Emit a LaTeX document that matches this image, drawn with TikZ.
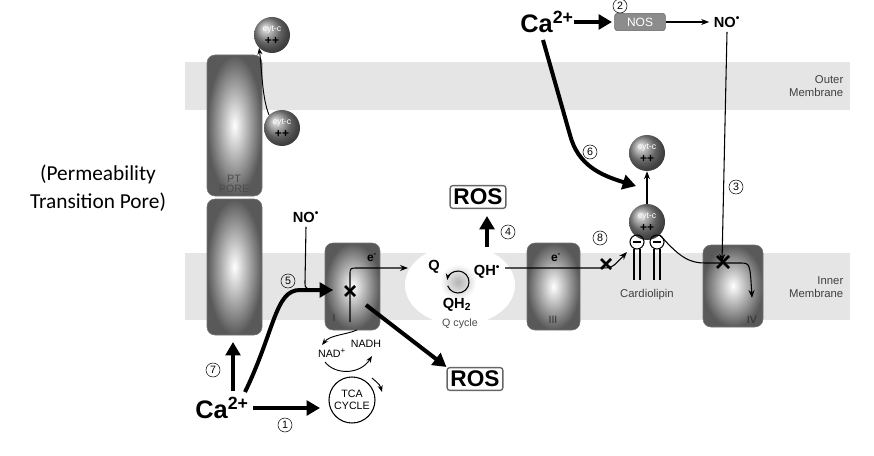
\documentclass[tikz,border=0pt]{standalone}
\usepackage{fontspec}
\setmainfont{Liberation Sans}
\newfontfamily\carlitofont{Carlito}
\usetikzlibrary{arrows.meta}
\begin{document}
\begin{tikzpicture}[x=0.75pt,y=-0.75pt,
 cx/.style={shade,inner color=white,outer color=black!65,rounded corners=6pt,draw=black!55},
 cyt/.style={circle,minimum size=36*0.75pt,inner sep=0pt,ball color=black!45},
 thk/.style={line width=3pt,-{Triangle[length=10pt,width=11pt]}},
 thn/.style={line width=0.8pt,-{Stealth[length=6pt]}},
 num/.style={circle,draw,inner sep=0pt,minimum size=14*0.75pt,font=\fontsize{8}{8}\selectfont},
 lab/.style={font=\fontsize{8.5}{10}\selectfont,text=black!75,align=right},
 ros/.style={draw=black!60,fill=white,rounded corners=2pt,line width=1pt,font=\bfseries\fontsize{17}{17}\selectfont,inner sep=2.5pt},
 ca/.style={font=\bfseries\fontsize{19}{19}\selectfont},
 xm/.style={line width=2pt},
 bl/.style={font=\bfseries\fontsize{11}{11}\selectfont}]
\useasboundingbox (0,0) rectangle (874,456);
\fill[black!10] (185,62) rectangle (850,110);
\fill[black!10] (185,253) rectangle (850,320);
\node[lab,anchor=east] (om) at (848,86) {Outer\\Membrane};
\node[lab,anchor=east] (im) at (848,287) {Inner\\Membrane};
% PT pore
\shade[cx] (207,55) rectangle (262,196);
\shade[cx] (207,199) rectangle (262,335);
\node[font=\fontsize{8}{8}\selectfont,text=black!70,align=center] (pt) at (234,184) {PT\\PORE};
\node[font=\carlitofont\fontsize{16}{21}\selectfont,align=center] (ptp) at (98,188) {(Permeability\\Transition Pore)};
% complexes
\shade[cx] (325,243) rectangle (380,330);
\shade[cx] (527,243) rectangle (580,330);
\shade[cx] (703,245) rectangle (763,327);
\node[font=\fontsize{8}{8}\selectfont,text=black!80] (c1) at (334,318) {I};
\node[font=\fontsize{8}{8}\selectfont,text=black!80] (c3) at (553,320) {III};
\node[font=\fontsize{8}{8}\selectfont,text=black!80] (c4) at (752,320) {IV};
% Q cycle
\fill[white] (460,285) ellipse (55 and 40);
\shade[inner color=black!30,outer color=white] (458,282) circle (18);
\draw[line width=0.8pt,-{Stealth[length=5pt]}] (458,282) ++(160:11) arc[start angle=160,end angle=-170,radius=11];
\node[bl] (q) at (434,267) {Q};
\node[bl] (qh) at (487,272) {QH\textsuperscript{•}};
\node[bl] (qh2) at (457,305) {QH\textsubscript{2}};
\node[font=\fontsize{8}{8}\selectfont,text=black!70] (qc) at (460,324) {Q cycle};
% cyt-c
\foreach \n/\px/\py in {cy1/272/35,cy2/282/128,cy3/647/153,cy4/647/222}{
 \node[cyt] (\n) at (\px,\py) {};
 \node[font=\fontsize{6.5}{6.5}\selectfont,text=white,inner sep=0pt] (\n t) at (\px,\py-5) {cyt-c};
 \node[font=\bfseries\fontsize{9}{9}\selectfont,inner sep=0pt] (\n p) at (\px,\py+6) {++};}
\draw[line width=0.7pt,-{Stealth[length=5pt]}] (cy2.north west) .. controls (262,98) and (262,70) .. (cy1.south west);
% cardiolipin
\foreach \xx in {637,657}{\draw[line width=0.8pt] (\xx,242) circle (7);
 \draw[line width=1.2pt] (\xx-4,242)--(\xx+4,242);
 \draw[line width=0.8pt] (\xx-3,249)--(\xx-3,280) (\xx+3,249)--(\xx+3,280);}
\node[font=\fontsize{8.5}{9}\selectfont,text=black!75] (card) at (647,295) {Cardiolipin};
% ROS
\node[ros] (ros1) at (478,197) {ROS};
\node[ros] (ros2) at (475,379) {ROS};
% Ca
\node[ca] (ca1) at (222,408) {Ca\textsuperscript{2+}};
\node[ca] (ca2) at (547,22) {Ca\textsuperscript{2+}};
\node[draw=black!60,fill=black!45,rounded corners=2pt,font=\fontsize{9}{9}\selectfont,text=white,minimum width=38pt,minimum height=12pt] (nos) at (640,22) {NOS};
\node[bl] (no1) at (727,22) {NO\textsuperscript{•}};
\node[bl] (no2) at (306,217) {NO\textsuperscript{•}};
% TCA
\node[circle,draw,line width=0.8pt,minimum size=46*0.75pt,inner sep=0pt,font=\fontsize{8}{9}\selectfont,align=center] (tca) at (352,400) {TCA\\CYCLE};
\node[font=\fontsize{8}{8}\selectfont] (nad) at (332,353) {NAD\textsuperscript{+}};
\node[font=\fontsize{8}{8}\selectfont] (nadh) at (366,344) {NADH};
\draw[line width=0.7pt,-{Stealth[length=5pt]}] (357,330) .. controls (345,335) and (330,335) .. (322,345);
\draw[line width=0.7pt,-{Stealth[length=5pt]}] (325,362) .. controls (335,375) and (360,375) .. (372,356);
\draw[line width=0.7pt,-{Stealth[length=5pt]}] (372,378) .. controls (380,385) .. (382,392);
% numbers
\node[num] (n1) at (285,425) {1};
\node[num] (n2) at (620,6) {2};
\node[num] (n3) at (736,187) {3};
\node[num] (n4) at (508,232) {4};
\node[num] (n5) at (288,281) {5};
\node[num] (n6) at (590,152) {6};
\node[num] (n7) at (213,370) {7};
\node[num] (n8) at (600,238) {8};
% arrows
\draw[thk] (ca1.east) -- (320,408);
\draw[thk] (233,391) -- (233,342);
\draw[thk] (245,392) .. controls (275,330) and (275,290) .. (300,290) -- (333,290);
\draw[line width=0.8pt,-{Stealth[length=6pt]}] (no2.south) -- (305,282) .. controls (305,290) .. (333,290);
\draw[line width=0.8pt,-{Stealth[length=6pt]}] (350,322) -- (350,275) .. controls (350,268) .. (358,268) -- (408,268);
\node[font=\bfseries\fontsize{9}{9}\selectfont] (e1) at (372,258) {e\textsuperscript{-}};
\coordinate (x1) at (350,291);
\draw[xm] (x1) ++(-5,-5) -- ++(10,10) (x1) ++(5,-5) -- ++(-10,10);
\draw[thk] (366,305) -- (ros2.north west);
\draw[thk] (487,247) -- (487,216);
\draw[line width=0.8pt,-{Stealth[length=6pt]}] (505,268) -- (600,268) .. controls (612,268) .. (627,252);
\node[font=\bfseries\fontsize{9}{9}\selectfont] (e3) at (556,258) {e\textsuperscript{-}};
\coordinate (x3) at (606,264);
\draw[xm] (x3) ++(-5,-5) -- ++(10,10) (x3) ++(5,-5) -- ++(-10,10);
\draw[line width=0.8pt,-{Stealth[length=6pt]}] (cy4.south east) .. controls (680,258) and (690,263) .. (705,263) -- (740,263) .. controls (750,263) .. (752,298);
\draw[line width=0.8pt,-{Stealth[length=6pt]}] (no1.south) -- (722,262);
\coordinate (x4) at (723,262);
\draw[xm] (x4) ++(-6,-6) -- ++(12,12) (x4) ++(6,-6) -- ++(-12,12);
\draw[thk] (543,40) -- (570,135) .. controls (578,165) and (600,175) .. (636,186);
\draw[thn] (cy4.north) -- (cy3.south);
\draw[thk] (574,22) -- (612,22);
\draw[thn] (nos.east) -- (no1.west);
\end{tikzpicture}
\end{document}
